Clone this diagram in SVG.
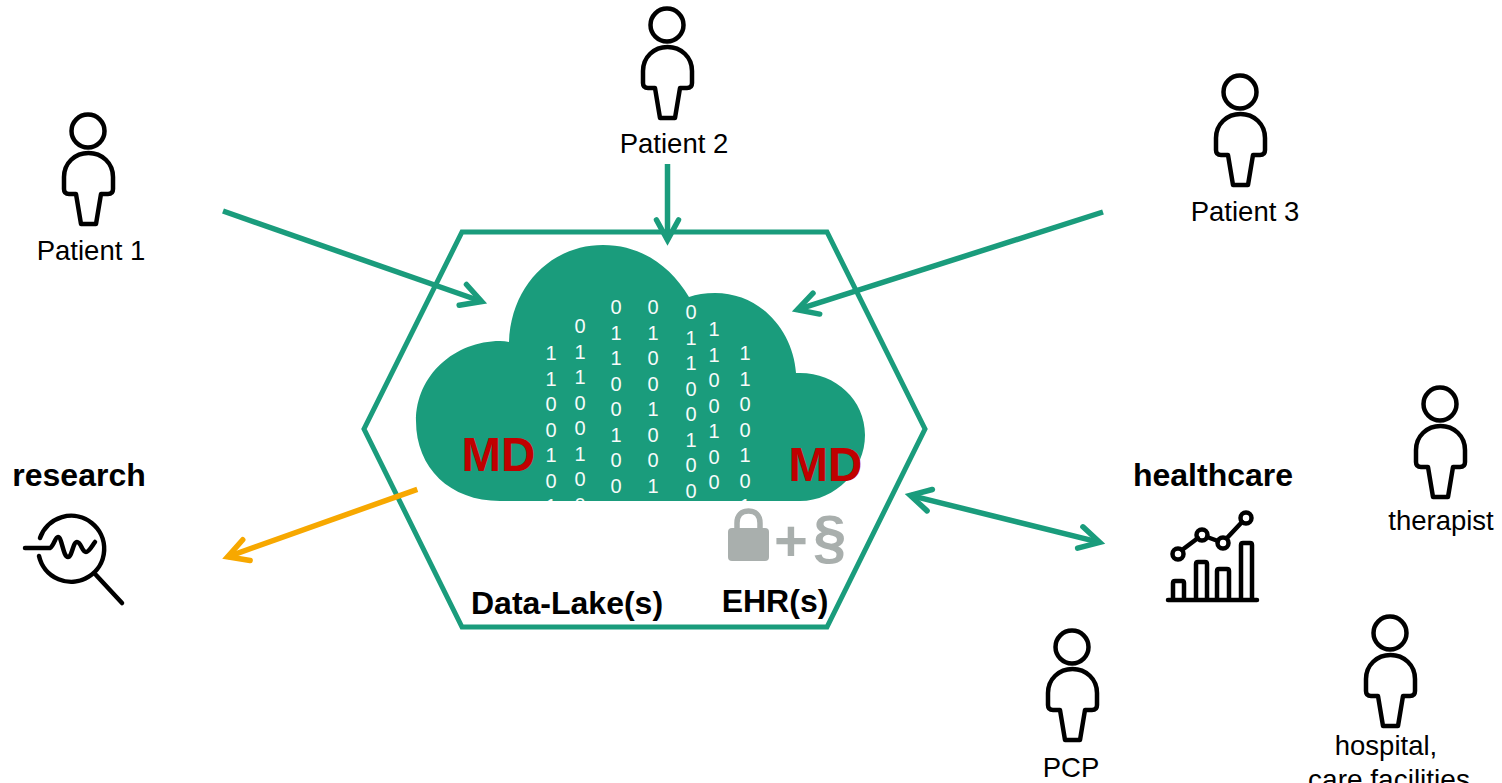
<svg xmlns="http://www.w3.org/2000/svg" width="1502" height="783" viewBox="0 0 1502 783">
<style>
text{font-family:"Liberation Sans",Arial,sans-serif;fill:#000}
.lbl{font-size:27.5px;text-anchor:middle}
.b{font-size:32px;font-weight:bold;text-anchor:middle}
.md{font-size:47.5px;font-weight:bold;fill:#C00000}
.bin text{font-size:20px;fill:#F7FBFA;text-anchor:middle}
.ic{fill:none;stroke:#000;stroke-width:4.500;stroke-linecap:round;stroke-linejoin:round}
.hx{fill:none;stroke:#1A9C7C;stroke-width:5}
.cn{fill:none;stroke:#1A9C7C;stroke-width:5.500}
.gr{fill:#A9AFAD}
</style>
<defs>
<marker id="hT" markerUnits="userSpaceOnUse" markerWidth="44" markerHeight="44" refX="30" refY="22" orient="auto-start-reverse" viewBox="0 0 44 44"><path d="M10,11L30,22L10,33" fill="none" stroke="#1A9C7C" stroke-width="5.500" stroke-linecap="round" stroke-miterlimit="10"/></marker>
<marker id="hO" markerUnits="userSpaceOnUse" markerWidth="44" markerHeight="44" refX="30" refY="22" orient="auto" viewBox="0 0 44 44"><path d="M10,11L30,22L10,33" fill="none" stroke="#F7A800" stroke-width="5.500" stroke-linecap="round" stroke-miterlimit="10"/></marker>
<clipPath id="cl"><rect x="400" y="240" width="480" height="261"/></clipPath>
<g id="person"><circle cx="0" cy="0" r="16.500" class="ic"/><path class="ic" d="M-12,63L-7,93H8L13,63H20Q25,63 25,58V46C25,32 14,22 0.500,22C-13,22 -24,32 -24,46V58Q-24,63 -19,63Z"/></g>
</defs>
<g id="hexagon"><path class="hx" d="M462,232H827L925,429L827,627H462L364,429Z"/></g>
<g id="cloud">
<path fill="#1A9C7C" d="M500,501C450,501 416,468 416,421C416,375 455,341 500,341Q505,341 509,342C511,285 552,245 603,245C640,245 670,265 689,297Q700,293 715,293C760,293 793,330 796,373H800C836,373 865,400 865,435C865,470 836,501 800,501Z"/>
<g class="bin" clip-path="url(#cl)">
<text x="551" y="360">1</text><text x="551" y="385.500">1</text><text x="551" y="411">0</text><text x="551" y="436.500">0</text><text x="551" y="462">1</text><text x="551" y="487.500">0</text><text x="551" y="513">1</text>
<text x="580" y="333">0</text><text x="580" y="358.500">1</text><text x="580" y="384">1</text><text x="580" y="409.500">0</text><text x="580" y="435">0</text><text x="580" y="460.500">1</text><text x="580" y="486">0</text><text x="580" y="511.500">0</text>
<text x="616" y="314">0</text><text x="616" y="339.500">1</text><text x="616" y="365">1</text><text x="616" y="390.500">0</text><text x="616" y="416">0</text><text x="616" y="441.500">1</text><text x="616" y="467">0</text><text x="616" y="492.500">0</text>
<text x="653" y="314">0</text><text x="653" y="339.500">1</text><text x="653" y="365">0</text><text x="653" y="390.500">0</text><text x="653" y="416">1</text><text x="653" y="441.500">0</text><text x="653" y="467">0</text><text x="653" y="492.500">1</text>
<text x="691" y="319">0</text><text x="691" y="344.500">1</text><text x="691" y="370">1</text><text x="691" y="395.500">0</text><text x="691" y="421">0</text><text x="691" y="446.500">1</text><text x="691" y="472">0</text><text x="691" y="497.500">0</text>
<text x="714" y="336">1</text><text x="714" y="361.500">1</text><text x="714" y="387">0</text><text x="714" y="412.500">0</text><text x="714" y="438">1</text><text x="714" y="463.500">0</text><text x="714" y="489">0</text><text x="714" y="514.500">1</text>
<text x="745" y="360">1</text><text x="745" y="385.500">1</text><text x="745" y="411">0</text><text x="745" y="436.500">0</text><text x="745" y="462">1</text><text x="745" y="487.500">0</text><text x="745" y="513">1</text>
</g>
<text class="md" x="461.500" y="471">MD</text>
<text class="md" x="788.500" y="481">MD</text>
</g>
<g id="ehr-lock">
<rect class="gr" x="728" y="528" width="41" height="33" rx="4"/>
<path d="M737,530V523C737,515 742,511 748.500,511C755,511 760,515 760,523V530" fill="none" stroke="#A9AFAD" stroke-width="5.500"/>
<text style="font-size:58px;font-weight:bold;fill:#A9AFAD" x="774" y="561">+</text>
<text style="font-size:60px;font-weight:bold;fill:#A9AFAD" x="813" y="557">§</text>
</g>
<text class="b" x="567" y="614">Data-Lake(s)</text>
<text class="b" x="775" y="612">EHR(s)</text>
<g id="connectors">
<path class="cn" marker-end="url(#hT)" d="M223,211L481.700,301.500"/>
<path class="cn" marker-end="url(#hT)" d="M667.500,164V240"/>
<path class="cn" marker-end="url(#hT)" d="M1103,212L797.300,309.700"/>
<path class="cn" marker-start="url(#hT)" marker-end="url(#hT)" d="M910.300,495.400L1099.700,542.300"/>
<path class="cn" style="stroke:#F7A800" marker-end="url(#hO)" d="M417.300,489.300L227.600,556.800"/>
</g>
<g id="patient-1"><use href="#person" x="88" y="131"/><text class="lbl" x="91" y="260">Patient 1</text></g>
<g id="patient-2"><use href="#person" x="667" y="25"/><text class="lbl" x="674" y="153">Patient 2</text></g>
<g id="patient-3"><use href="#person" x="1240" y="92"/><text class="lbl" x="1245" y="221">Patient 3</text></g>
<g id="therapist"><use href="#person" x="1440" y="404"/><text class="lbl" x="1441" y="530">therapist</text></g>
<g id="pcp"><use href="#person" x="1072" y="647"/><text class="lbl" x="1071" y="777">PCP</text></g>
<g id="hospital"><use href="#person" x="1390" y="633"/><text class="lbl" x="1386" y="755">hospital,</text><text class="lbl" style="font-size:28px" x="1389" y="789">care facilities</text></g>
<g id="research"><text class="b" x="79" y="486">research</text>
<path class="ic" d="M40,538A33,33 0 1 1 39,556M25,548H50C54,546 55,537 58,537C62,537 63,557 68,557C72,557 73,542 77,542C81,542 82,552 86,552C89,552 92,546 95,542M96,575L122,603"/></g>
<g id="healthcare"><text class="b" x="1213" y="486">healthcare</text>
<path class="ic" d="M1168,600H1257M1173,600V583Q1173,581 1175,581H1182Q1184,581 1184,583V600M1196,600V564Q1196,562 1198,562H1205Q1207,562 1207,564V600M1217,600V571Q1217,569 1219,569H1227Q1229,569 1229,571V600M1241,600V545Q1241,543 1243,543H1250Q1252,543 1252,545V600M1182,550L1198,538M1207,537L1218,541M1227,538L1242,522"/>
<circle class="ic" cx="1178" cy="554" r="5.500"/><circle class="ic" cx="1202" cy="535" r="5.500"/><circle class="ic" cx="1223" cy="543" r="5.500"/><circle class="ic" cx="1246" cy="518" r="5.500"/></g>
</svg>
